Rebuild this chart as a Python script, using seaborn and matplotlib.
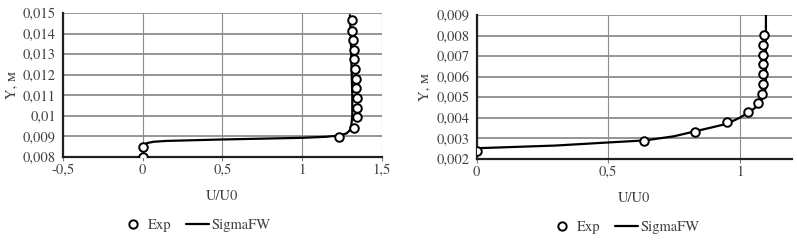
import matplotlib
matplotlib.use("Agg")
import matplotlib.pyplot as plt
import matplotlib.ticker as mticker
import seaborn as sns
import pandas as pd
from matplotlib.lines import Line2D

# ---- Data: left panel ----
exp1_u = [0.0, 0.0, 1.232, 1.328, 1.345, 1.345, 1.343, 1.341, 1.337, 1.332, 1.328, 1.324, 1.320, 1.316, 1.312]
exp1_y = [0.0080, 0.00849, 0.00897, 0.00943, 0.00992, 0.0104, 0.01087, 0.01133, 0.0118, 0.01228, 0.01275, 0.0132, 0.0137, 0.01415, 0.01467]
sim1_u = [0.0, 0.01, 0.03, 0.07, 0.15, 0.5, 1.0, 1.15, 1.24, 1.28, 1.30, 1.31, 1.315, 1.315, 1.31, 1.305, 1.30]
sim1_y = [0.00852, 0.0086, 0.00868, 0.00874, 0.00878, 0.00885, 0.00893, 0.00898, 0.00905, 0.00915, 0.0093, 0.0096, 0.0100, 0.0110, 0.0125, 0.0140, 0.0149]

# ---- Data: right panel ----
exp2_u = [0.0, 0.636, 0.831, 0.951, 1.033, 1.068, 1.087, 1.088, 1.088, 1.088, 1.089, 1.090, 1.092]
exp2_y = [0.0024, 0.00286, 0.00331, 0.00378, 0.00426, 0.00471, 0.00517, 0.00565, 0.00613, 0.0066, 0.00706, 0.00753, 0.00803]
sim2_u = [0.0, 0.3, 0.5, 0.64, 0.75, 0.85, 0.95, 1.0, 1.04, 1.07, 1.09, 1.10, 1.10, 1.10]
sim2_y = [0.00252, 0.00265, 0.0028, 0.0029, 0.0031, 0.0034, 0.0037, 0.0040, 0.0043, 0.0046, 0.0050, 0.0055, 0.0070, 0.0090]

x_label = "U/U0"
y_label = "Y, м"
legend_labels = ["Exp", "SigmaFW"]

sns.set_theme(style="white")
plt.rcParams["font.family"] = ["TeX Gyre Termes", "STIX Two Text", "DejaVu Serif"]

fig = plt.figure(figsize=(7.97, 2.46), dpi=100)
ax1 = fig.add_axes([0.079, 0.362, 0.400, 0.585])
ax2 = fig.add_axes([0.598, 0.354, 0.396, 0.585])

text_color = "#404040"
fs = 10.5

def comma_fmt():
    def f(v, pos):
        s = f"{v:.3f}".rstrip("0").rstrip(".")
        if s in ("-0", ""):
            s = "0"
        return s.replace(".", ",")
    return mticker.FuncFormatter(f)

def style(ax, xlim, xticks, ylim, yticks):
    ax.set_xlim(*xlim)
    ax.set_ylim(*ylim)
    ax.set_xticks(xticks)
    ax.set_yticks(yticks)
    ax.xaxis.set_major_formatter(comma_fmt())
    ax.yaxis.set_major_formatter(comma_fmt())
    ax.grid(True, axis="y", color="#8c8c8c", linewidth=1.3)
    ax.grid(True, axis="x", color="#8c8c8c", linewidth=0.8)
    ax.set_axisbelow(True)
    for s in ["top", "right"]:
        ax.spines[s].set_visible(False)
    for s in ["left", "bottom"]:
        ax.spines[s].set_color("#202020")
        ax.spines[s].set_linewidth(1.6)
    ax.tick_params(axis="both", labelsize=fs, colors=text_color, length=3, width=0.8,
                   direction="out", bottom=True, left=False, pad=2)
    ax.tick_params(axis="x", colors="#808080", labelcolor=text_color)
    ax.set_xlabel(x_label, fontsize=fs, color=text_color, labelpad=9)
    ax.set_ylabel(y_label, fontsize=fs, color=text_color, labelpad=3)

for ax, su, sy, eu, ey in [(ax1, sim1_u, sim1_y, exp1_u, exp1_y),
                           (ax2, sim2_u, sim2_y, exp2_u, exp2_y)]:
    sim = pd.DataFrame({"u": su, "y": sy})
    exp = pd.DataFrame({"u": eu, "y": ey})
    sns.lineplot(data=sim, x="u", y="y", sort=False, estimator=None, ax=ax,
                 color="black", linewidth=1.6, zorder=3)
    sns.scatterplot(data=exp, x="u", y="y", ax=ax, marker="o", s=38,
                    facecolor="white", edgecolor="black", linewidth=1.4, zorder=4)

style(ax1, (-0.5, 1.5), [-0.5, 0, 0.5, 1, 1.5], (0.008, 0.015),
      [0.008 + 0.001 * i for i in range(8)])
style(ax2, (0, 1.2), [0, 0.5, 1], (0.002, 0.009),
      [0.002 + 0.001 * i for i in range(8)])

handles = [Line2D([], [], marker="o", linestyle="none", markerfacecolor="white",
                  markeredgecolor="black", markeredgewidth=1.4, markersize=6),
           Line2D([], [], color="black", linewidth=1.6)]
fig.legend(handles, legend_labels, loc="center", bbox_to_anchor=(196 / 797, 1 - 225 / 246),
           ncol=2, frameon=False, fontsize=fs, handlelength=1.6, columnspacing=1.0,
           handletextpad=0.2, labelcolor=text_color)
fig.legend(handles, legend_labels, loc="center", bbox_to_anchor=(625 / 797, 1 - 227 / 246),
           ncol=2, frameon=False, fontsize=fs, handlelength=1.6, columnspacing=1.0,
           handletextpad=0.2, labelcolor=text_color)

fig.savefig("out.png", dpi=100)
